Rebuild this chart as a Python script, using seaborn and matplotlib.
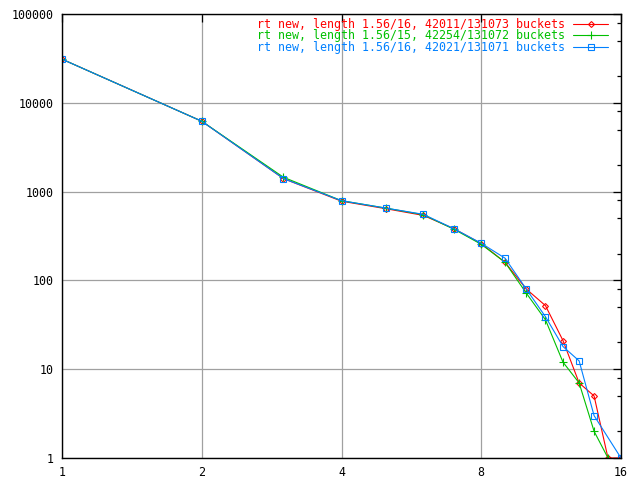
import pandas as pd
import matplotlib
matplotlib.use("Agg")
import matplotlib.pyplot as plt
import seaborn as sns
from matplotlib.ticker import FixedLocator, NullFormatter, NullLocator

# bucket chain length vs count, three hash table runs
labels = [
    "rt new, length 1.56/16, 42011/131073 buckets",
    "rt new, length 1.56/15, 42254/131072 buckets",
    "rt new, length 1.56/16, 42021/131071 buckets",
]
colors = ["#ff0000", "#00c000", "#0080ff"]
markers = ["D", "+", "s"]
msizes = [3.0, 5.5, 5.0]

x_red = list(range(1, 17))
y_red = [31000, 6200, 1400, 780, 640, 540, 380, 260, 160, 80, 52, 21, 7, 5, 1, 1]

x_green = list(range(1, 16))
y_green = [31000, 6200, 1450, 790, 650, 550, 375, 255, 160, 72, 36, 12, 7, 2, 1]

x_blue = list(range(1, 15)) + [16]
y_blue = [31000, 6200, 1400, 790, 650, 555, 380, 262, 178, 80, 39, 18, 12.4, 3, 1]

xs = [x_red, x_green, x_blue]
ys = [y_red, y_green, y_blue]

sns.set_style("white")
plt.rcParams["font.family"] = ["DejaVu Sans Mono"]

fig = plt.figure(figsize=(6.4, 4.8), dpi=100)
ax = fig.add_axes([62 / 640, 1 - 458 / 480, (621 - 62) / 640, (458 - 14) / 480])

for x, y, lab, c, m, s in zip(xs, ys, labels, colors, markers, msizes):
    sns.lineplot(x=x, y=y, ax=ax, color=c, marker=m, markersize=s,
                 markeredgecolor=c, markerfacecolor="none", markeredgewidth=0.8,
                 lw=0.8, label=lab, legend=False)

ax.set_xscale("log", base=2)
ax.set_yscale("log")
ax.set_xlim(1, 16)
ax.set_ylim(1, 100000)

ax.xaxis.set_major_locator(FixedLocator([1, 2, 4, 8, 16]))
ax.set_xticklabels(["1", "2", "4", "8", "16"])
ax.xaxis.set_minor_locator(NullLocator())
yt = [1, 10, 100, 1000, 10000, 100000]
ax.yaxis.set_major_locator(FixedLocator(yt))
ax.set_yticklabels([str(v) for v in yt])
minor = [m * 10 ** k for k in range(5) for m in (2, 5, 8)]
ax.yaxis.set_minor_locator(FixedLocator(minor))
ax.yaxis.set_minor_formatter(NullFormatter())

ax.tick_params(which="both", direction="in", top=True, right=True,
               colors="black", labelsize=8.4, width=0.9)
ax.tick_params(which="major", length=6, pad=6)
ax.tick_params(which="minor", length=3)

ax.grid(True, which="major", color="#a0a0a0", lw=0.9)
for sp in ax.spines.values():
    sp.set_color("black")
    sp.set_linewidth(1.0)
ax.set_xlabel("")
ax.set_ylabel("")

ax.legend(loc="upper right", bbox_to_anchor=(1 - 6 / 559, 1 + 3 / 444),
          frameon=False, markerfirst=False,
          labelcolor="linecolor", fontsize=8.4, handlelength=3,
          handletextpad=0.7, labelspacing=-0.14, borderaxespad=0.2)

fig.savefig("out.png", dpi=100)
